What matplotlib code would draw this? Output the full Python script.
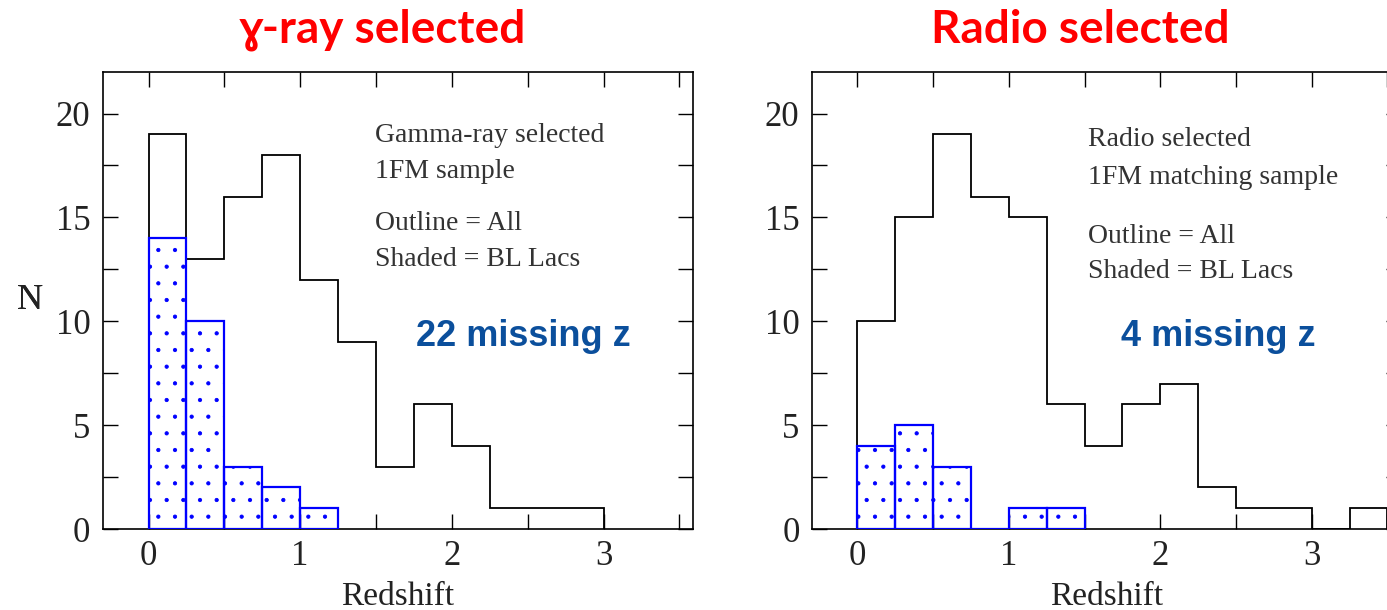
import matplotlib.pyplot as plt
from matplotlib.ticker import MultipleLocator

# redshift histograms, bins of 0.25 starting at z=0
bin_width = 0.25
gamma_all = [19, 13, 16, 18, 12, 9, 3, 6, 4, 1, 1, 1]
gamma_bl = [14, 10, 3, 2, 1]
radio_all = [10, 15, 19, 16, 15, 6, 4, 6, 7, 2, 1, 1, 0, 1]
radio_bl = [4, 5, 3, 0, 1, 1]

titles = ["\u0263-ray selected", "Radio selected"]
notes = [["Gamma-ray selected", "1FM sample", "Outline = All", "Shaded = BL Lacs"],
         ["Radio selected", "1FM matching sample", "Outline = All", "Shaded = BL Lacs"]]
missing = ["22 missing z", "4 missing z"]

plt.rcParams['hatch.color'] = 'blue'
plt.rcParams['hatch.linewidth'] = 0.6

W, H = 1387, 610
fig = plt.figure(figsize=(W / 100, H / 100), dpi=100)

def fx(px):
    return px / W

def fy(py):
    return 1 - py / H

serif = 'Liberation Serif'
txt_col = '#333333'

axes_px = [(103, 693), (812, 1401)]
note_x = [375, 1088]
note_y = [[135, 172, 223, 260], [139, 178, 236, 272]]
title_x = [383, 1080]
miss_x = [523, 1218]

data = [(gamma_all, gamma_bl), (radio_all, radio_bl)]

for i, (all_counts, bl_counts) in enumerate(data):
    x0, x1 = axes_px[i]
    ax = fig.add_axes([fx(x0), fy(529), fx(x1 - x0), (529 - 72) / H])

    edges = [k * bin_width for k in range(len(all_counts) + 1)]
    ax.stairs(all_counts, edges, baseline=0, color='black', lw=1.3, zorder=2)

    left = [k * bin_width for k in range(len(bl_counts))]
    ax.bar(left, bl_counts, width=bin_width, align='edge', facecolor='none',
           edgecolor='blue', hatch='.', lw=1.6, zorder=3)

    ax.set_xlim(-0.3, 3.59)
    ax.set_ylim(0, 22)
    ax.xaxis.set_major_locator(MultipleLocator(1))
    ax.xaxis.set_minor_locator(MultipleLocator(0.5))
    ax.yaxis.set_major_locator(MultipleLocator(5))
    ax.yaxis.set_minor_locator(MultipleLocator(2.5))
    ax.tick_params(which='both', direction='in', top=True, right=True,
                   length=11, width=1.0, color='black')
    ax.tick_params(axis='both', which='major', labelsize=25, labelcolor='#222222')
    ax.tick_params(axis='x', pad=8)
    ax.tick_params(axis='y', pad=9)
    for lab in ax.get_xticklabels() + ax.get_yticklabels():
        lab.set_fontfamily(serif)
    for sp in ax.spines.values():
        sp.set_linewidth(1.2)

    ax.set_xlabel("Redshift", fontsize=24, fontfamily=serif, color='#222222', labelpad=6)
    ax.set_ylabel("N", fontsize=26, fontfamily=serif, color='#222222', rotation=0,
                  labelpad=0)
    ax.yaxis.set_label_coords((30 - x0) / (x1 - x0), 0.5)
    ax.yaxis.label.set_va('center')

    for line, ly in zip(notes[i], note_y[i]):
        fig.text(fx(note_x[i]), fy(ly), line, fontsize=20, fontfamily=serif,
                 color=txt_col, ha='left', va='center')

    fig.text(fx(miss_x[i]), fy(337), missing[i], fontsize=26,
             fontfamily=['Liberation Sans', 'DejaVu Sans'], fontweight='bold',
             color='#0B4F9C', ha='center', va='center')

    fig.text(fx(title_x[i]), fy(30), titles[i], fontsize=33,
             fontfamily=['Lato', 'DejaVu Sans'], fontweight='bold',
             color='#FF0000', ha='center', va='center')

fig.savefig("out.png", dpi=100)
